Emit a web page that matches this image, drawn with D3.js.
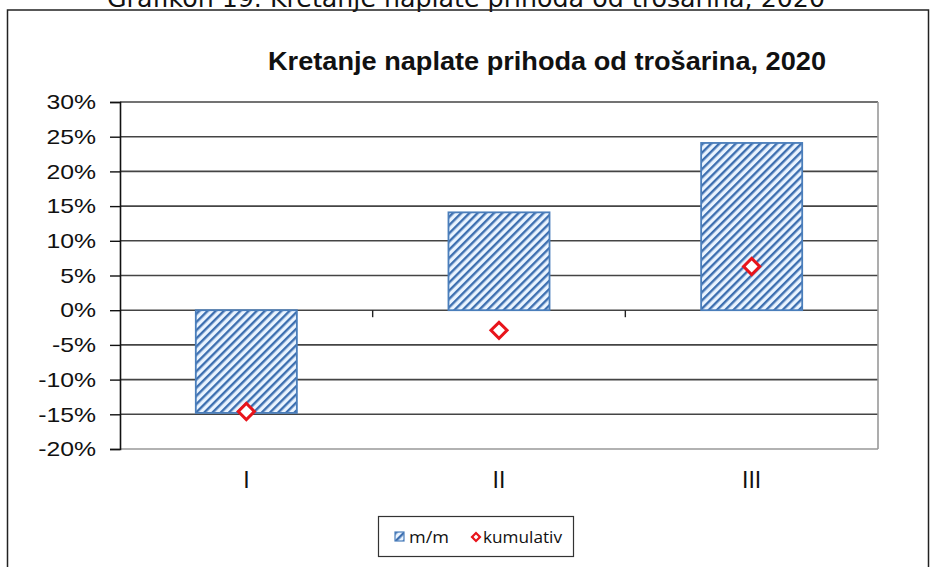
<!DOCTYPE html>
<html>
<head>
<meta charset="utf-8">
<script src="https://cdn.jsdelivr.net/npm/d3@7"></script>
<style>
  body { margin: 0; background: #fff; }
  svg { display: block; }
</style>
</head>
<body>
<div id="chart"></div>
<script>
var categories = ["I", "II", "III"];
var mmValues = [-14.8, 14.1, 24.1];
var kumValues = [-14.6, -2.9, 6.3];
var yTicks = [-20, -15, -10, -5, 0, 5, 10, 15, 20, 25, 30];

var width = 933, height = 567;
var margin = {top: 102, left: 120, right: 55, bottom: 118};

var svg = d3.select("#chart").append("svg")
  .attr("width", width)
  .attr("height", height);

// hatch pattern
var defs = svg.append("defs");
var pat = defs.append("pattern")
  .attr("id", "hatch")
  .attr("patternUnits", "userSpaceOnUse")
  .attr("width", 5.8)
  .attr("height", 5.8)
  .attr("patternTransform", "rotate(45)");
pat.append("rect").attr("width", 5.8).attr("height", 5.8).attr("fill", "#eaf4ff");
pat.append("rect").attr("width", 2.4).attr("height", 5.8).attr("fill", "#3d6fb0");

// stretch a text to a wider width, keeps its anchor
function widen(sel, k) {
  sel.each(function() {
    var w = this.getComputedTextLength();
    d3.select(this).attr("textLength", w * k).attr("lengthAdjust", "spacingAndGlyphs");
  });
}

// caption (cut off at top)
svg.append("text")
  .attr("x", 466)
  .attr("y", 7)
  .attr("text-anchor", "middle")
  .attr("font-family", "DejaVu Sans")
  .attr("font-size", 24)
  .attr("fill", "#111")
  .attr("textLength", 718)
  .attr("lengthAdjust", "spacingAndGlyphs")
  .text("Grafikon 19. Kretanje naplate prihoda od trošarina, 2020");

// outer frame
svg.append("rect")
  .attr("x", 7.5)
  .attr("y", 10)
  .attr("width", 921)
  .attr("height", 600)
  .attr("fill", "none")
  .attr("stroke", "#222")
  .attr("stroke-width", 1.5);

// title
svg.append("text")
  .attr("x", 547)
  .attr("y", 70)
  .attr("text-anchor", "middle")
  .attr("font-family", "'Liberation Sans', Arial, sans-serif")
  .attr("font-weight", "bold")
  .attr("font-size", 26)
  .attr("fill", "#111")
  .attr("textLength", 558)
  .attr("lengthAdjust", "spacingAndGlyphs")
  .text("Kretanje naplate prihoda od trošarina, 2020");

var x = d3.scaleBand()
  .domain(categories)
  .range([margin.left, 878])
  .paddingInner(0.6)
  .paddingOuter(0.3);

var xb = d3.scaleLinear().domain([0, categories.length]).range([margin.left, 878]);

var y = d3.scaleLinear()
  .domain([-20, 30])
  .range([449, 102]);

// gridlines
svg.append("g")
  .selectAll("line")
  .data(yTicks)
  .enter()
  .append("line")
  .attr("x1", margin.left)
  .attr("x2", 878)
  .attr("y1", function(d) { return y(d); })
  .attr("y2", function(d) { return y(d); })
  .attr("stroke", function(d) { return d == -20 ? "#999" : "#444"; })
  .attr("stroke-width", 1.6);

// plot right border
svg.append("line")
  .attr("x1", 878).attr("x2", 878)
  .attr("y1", y(30)).attr("y2", y(-20))
  .attr("stroke", "#999")
  .attr("stroke-width", 1.6);

// y axis
var yAxis = d3.axisLeft(y)
  .tickValues(yTicks)
  .tickSize(10)
  .tickPadding(14)
  .tickFormat(function(d) { return d + "%"; });

var yAxisGroup = svg.append("g")
  .attr("transform", "translate(" + margin.left + ",0)")
  .call(yAxis);
yAxisGroup.select(".domain").attr("stroke", "#111").attr("stroke-width", 1.6);
yAxisGroup.selectAll(".tick line").attr("stroke", "#111").attr("stroke-width", 1.4);
yAxisGroup.selectAll("text")
  .attr("font-family", "'Liberation Sans', Arial, sans-serif")
  .attr("font-size", 21)
  .attr("fill", "#111")
  .call(widen, 1.18);

// x axis ticks at category boundaries on the 0 line
svg.append("g")
  .selectAll("line")
  .data(d3.range(1, categories.length))
  .enter()
  .append("line")
  .attr("x1", function(d) { return xb(d); })
  .attr("x2", function(d) { return xb(d); })
  .attr("y1", y(0))
  .attr("y2", y(0) + 7)
  .attr("stroke", "#222")
  .attr("stroke-width", 1.4);

// category labels
svg.append("g")
  .selectAll("text")
  .data(categories)
  .enter()
  .append("text")
  .attr("x", function(d) { return x(d) + x.bandwidth() / 2; })
  .attr("y", 488)
  .attr("text-anchor", "middle")
  .attr("font-family", "'Liberation Sans', Arial, sans-serif")
  .attr("font-size", 23)
  .attr("fill", "#111")
  .text(function(d) { return d; });

// bars
svg.append("g")
  .selectAll("rect")
  .data(mmValues)
  .enter()
  .append("rect")
  .attr("x", function(d, i) { return x(categories[i]); })
  .attr("y", function(d) { return y(Math.max(0, d)); })
  .attr("width", x.bandwidth())
  .attr("height", function(d) { return Math.abs(y(d) - y(0)); })
  .attr("fill", "url(#hatch)")
  .attr("stroke", "#4a7ebb")
  .attr("stroke-width", 1.8);

// markers
var diamond = d3.symbol().type(d3.symbolSquare).size(130);
svg.append("g")
  .selectAll("path")
  .data(kumValues)
  .enter()
  .append("path")
  .attr("d", diamond)
  .attr("transform", function(d, i) {
    return "translate(" + (x(categories[i]) + x.bandwidth() / 2) + "," + y(d) + ") rotate(45)";
  })
  .attr("fill", "#fff")
  .attr("stroke", "#e8141b")
  .attr("stroke-width", 3);

// legend
var legend = svg.append("g");
legend.append("rect")
  .attr("x", 378.5).attr("y", 516.5)
  .attr("width", 195).attr("height", 40)
  .attr("fill", "#fff")
  .attr("stroke", "#333")
  .attr("stroke-width", 1.2);
legend.append("rect")
  .attr("x", 395).attr("y", 532)
  .attr("width", 9).attr("height", 9)
  .attr("fill", "url(#hatch)")
  .attr("stroke", "#4a7ebb")
  .attr("stroke-width", 1.2);
legend.append("text")
  .attr("x", 409).attr("y", 543)
  .attr("font-family", "'Open Sans', 'DejaVu Sans', sans-serif")
  .attr("font-size", 16)
  .attr("fill", "#111")
  .attr("textLength", 40)
  .attr("lengthAdjust", "spacingAndGlyphs")
  .text("m/m");
legend.append("path")
  .attr("d", d3.symbol().type(d3.symbolSquare).size(32))
  .attr("transform", "translate(476,537) rotate(45)")
  .attr("fill", "#fff")
  .attr("stroke", "#e8141b")
  .attr("stroke-width", 2.2);
legend.append("text")
  .attr("x", 483).attr("y", 543)
  .attr("font-family", "'Open Sans', 'DejaVu Sans', sans-serif")
  .attr("font-size", 16)
  .attr("fill", "#111")
  .attr("textLength", 79)
  .attr("lengthAdjust", "spacingAndGlyphs")
  .text("kumulativ");
</script>
</body>
</html>
